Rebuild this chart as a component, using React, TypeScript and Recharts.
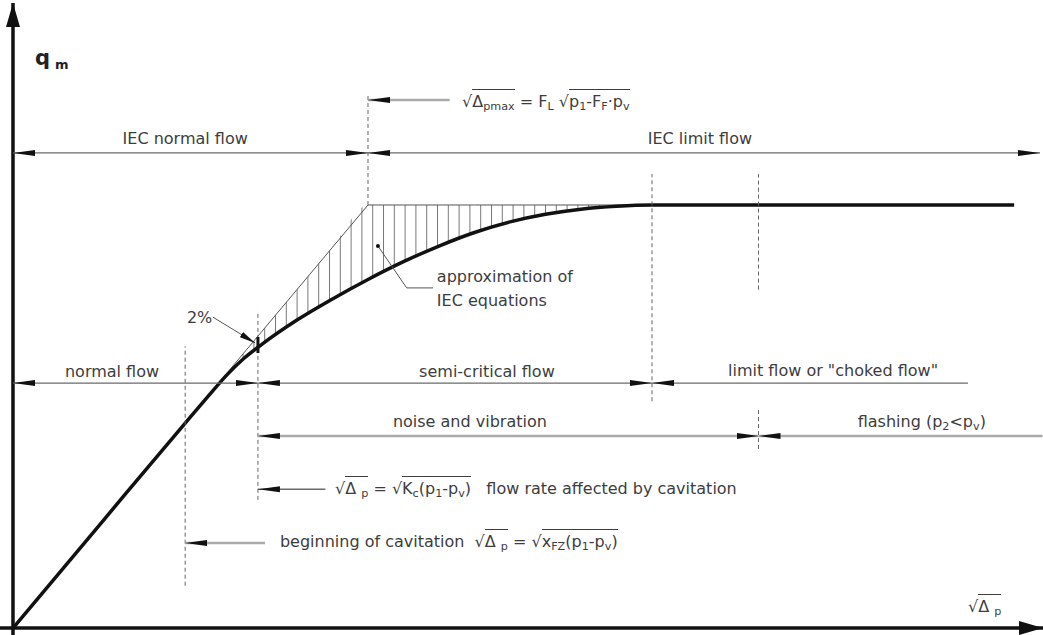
import React from "react"
import { ComposedChart, Line, Area, XAxis, YAxis, ReferenceLine, ReferenceDot } from "recharts"

// abscissa: √Δp relative to √Δp_max, ordinate: q_m relative to the choked (limit) flow
const sqrtDp = [0, 0.25, 0.5, 0.55, 0.6, 0.65, 0.7, 0.8, 0.9, 1.0, 1.1, 1.2, 1.3, 1.4, 1.5, 1.6, 1.7, 1.8, 2.82]
const qmReal = [0, 0.25, 0.499, 0.548, 0.596, 0.637, 0.67, 0.728, 0.778, 0.824, 0.866, 0.903, 0.935, 0.96, 0.978, 0.99, 0.997, 1.0, 1.0]
const qmIec = [0, 0.25, 0.5, 0.55, 0.6, 0.65, 0.7, 0.8, 0.9, 1.0, 1.0, 1.0, 1.0, 1.0, 1.0, 1.0, 1.0, 1.0, 1.0]

// characteristic points on the √Δp axis
const X_FZ = 0.485 // beginning of cavitation
const X_KC = 0.69 // flow rate affected by cavitation
const X_MAX = 1.0 // √Δp_max
const X_CHOKED = 1.8
const X_FLASH = 2.1
const X_END = 2.893

// levels of the dimension rows (in q_m units)
const Y_PMAX = 1.248
const Y_IEC = 1.123
const Y_FLOW = 0.579
const Y_NOISE = 0.454
const Y_KC = 0.328
const Y_FZ = 0.201

const X_DOMAIN = [-0.0366, 2.9014]
const Y_DOMAIN = [-0.0165, 1.4846]

const rows = sqrtDp.map((x, i) => ({ x, real: qmReal[i], iec: qmIec[i] }))

const dims = [
  { y: Y_PMAX, from: X_MAX, to: 1.23, start: true, end: false, light: true },
  { y: Y_IEC, from: 0, to: X_MAX, start: true, end: true, light: false },
  { y: Y_IEC, from: X_MAX, to: X_END, start: true, end: true, light: false },
  { y: Y_FLOW, from: 0, to: X_KC, start: true, end: true, light: false },
  { y: Y_FLOW, from: X_KC, to: X_CHOKED, start: true, end: true, light: false },
  { y: Y_FLOW, from: X_CHOKED, to: 2.69, start: true, end: false, light: false },
  { y: Y_NOISE, from: X_KC, to: X_FLASH, start: true, end: true, light: true },
  { y: Y_NOISE, from: X_FLASH, to: 2.9, start: true, end: false, light: true },
  { y: Y_KC, from: X_KC, to: 0.88, start: true, end: false, light: false },
  { y: Y_FZ, from: X_FZ, to: 0.71, start: true, end: false, light: true },
]

const guides = [
  { x: X_FZ, y1: 0.1, y2: 0.666 },
  { x: X_KC, y1: 0.303, y2: 0.75 },
  { x: X_MAX, y1: 1.0, y2: 1.262 },
  { x: X_CHOKED, y1: 0.536, y2: 1.073 },
  { x: X_FLASH, y1: 0.8, y2: 1.073 },
  { x: X_FLASH, y1: 0.423, y2: 0.52 },
]

const INK = "#3d3d3d"
const font: React.CSSProperties = {
  fontFamily: '"DejaVu Sans", sans-serif',
  fontSize: 16,
  color: INK,
  lineHeight: "20px",
  whiteSpace: "nowrap",
  paddingTop: 10,
}

const Sub = ({ children }: { children: React.ReactNode }) => (
  <span style={{ fontSize: "0.7em", verticalAlign: "-0.3em", lineHeight: 0 }}>{children}</span>
)
const Root = ({ children }: { children: React.ReactNode }) => (
  <span>
    √<span style={{ borderTop: `1.5px solid ${INK}`, paddingTop: 2 }}>{children}</span>
  </span>
)

const note = (content: React.ReactNode, dy: number, align: "left" | "center" = "left") => (p: any) => {
  const W = 460
  const x = align === "center" ? p.cx - W / 2 : p.cx
  return (
    <foreignObject x={x} y={p.cy + dy - 25.5} width={W} height={40}>
      <div style={{ ...font, textAlign: align }}>{content}</div>
    </foreignObject>
  )
}

const arrowLine = (color: string, width: number, start: boolean, end: boolean) => (p: any) => (
  <line
    x1={p.x1}
    y1={p.y1}
    x2={p.x2}
    y2={p.y2}
    stroke={color}
    strokeWidth={width}
    markerStart={start ? "url(#dimArrow)" : undefined}
    markerEnd={end ? "url(#dimArrow)" : undefined}
  />
)

export default function App() {
  return (
    <div style={{ position: "absolute", left: 0, top: 0, width: 1043, height: 635, background: "#fff" }}>
      <ComposedChart width={1043} height={635} data={rows} margin={{ top: 0, right: 0, bottom: 0, left: 0 }}>
        <defs>
          <marker id="dimArrow" markerUnits="userSpaceOnUse" markerWidth="22" markerHeight="8" viewBox="0 0 22 8" refX="22" refY="4" orient="auto-start-reverse">
            <path d="M0,1 L22,4 L0,7 Z" fill="#111" />
          </marker>
          <marker id="axisArrow" markerUnits="userSpaceOnUse" markerWidth="24" markerHeight="14" viewBox="0 0 24 14" refX="24" refY="7" orient="auto">
            <path d="M0,0 L24,7 L0,14 Z" fill="#111" />
          </marker>
          <marker id="leadArrow" markerUnits="userSpaceOnUse" markerWidth="16" markerHeight="7" viewBox="0 0 16 7" refX="16" refY="3.5" orient="auto">
            <path d="M0,0.5 L16,3.5 L0,6.5 Z" fill="#111" />
          </marker>
          <pattern id="hatch" patternUnits="userSpaceOnUse" width="10.8" height="8" x="5">
            <line x1="0.5" y1="0" x2="0.5" y2="8" stroke="#777" strokeWidth="1" />
          </pattern>
        </defs>
        <XAxis type="number" dataKey="x" domain={X_DOMAIN} hide allowDataOverflow />
        <YAxis type="number" domain={Y_DOMAIN} hide allowDataOverflow />

        <Area
          type="monotone"
          dataKey={(d: any) => [d.real, d.iec]}
          fill="url(#hatch)"
          fillOpacity={1}
          stroke="none"
          dot={false}
          activeDot={false}
          isAnimationActive={false}
        />
        <Line type="linear" dataKey="iec" stroke="#555" strokeWidth={1} dot={false} activeDot={false} isAnimationActive={false} />
        <Line type="monotone" dataKey="real" stroke="#111" strokeWidth={3.5} dot={false} activeDot={false} isAnimationActive={false} />

        {/* axes */}
        <ReferenceLine
          segment={[{ x: X_DOMAIN[0], y: 0 }, { x: X_DOMAIN[1], y: 0 }]}
          ifOverflow="visible"
          shape={(p: any) => <line x1={p.x1} y1={p.y1} x2={p.x2} y2={p.y2} stroke="#111" strokeWidth={3.5} markerEnd="url(#axisArrow)" />}
        />
        <ReferenceLine
          segment={[{ x: 0, y: Y_DOMAIN[0] }, { x: 0, y: 1.4775 }]}
          ifOverflow="visible"
          shape={(p: any) => <line x1={p.x1} y1={p.y1} x2={p.x2} y2={p.y2} stroke="#111" strokeWidth={3.5} markerEnd="url(#axisArrow)" />}
        />

        {guides.map((g, i) => (
          <ReferenceLine
            key={"g" + i}
            segment={[{ x: g.x, y: g.y1 }, { x: g.x, y: g.y2 }]}
            ifOverflow="visible"
            stroke="#666"
            strokeWidth={1}
            strokeDasharray="4 3"
          />
        ))}

        {dims.map((d, i) => (
          <ReferenceLine
            key={"d" + i}
            segment={[{ x: d.from, y: d.y }, { x: d.to, y: d.y }]}
            ifOverflow="visible"
            shape={arrowLine(d.light ? "#aaa" : "#6a6a6a", d.light ? 2.5 : 1.3, d.start, d.end)}
          />
        ))}

        {/* 2% marker */}
        <ReferenceLine
          segment={[{ x: 0.563, y: 0.735 }, { x: 0.682, y: 0.674 }]}
          ifOverflow="visible"
          shape={(p: any) => <line x1={p.x1} y1={p.y1} x2={p.x2} y2={p.y2} stroke="#555" strokeWidth={1} markerEnd="url(#leadArrow)" />}
        />
        <ReferenceLine segment={[{ x: X_KC, y: 0.65 }, { x: X_KC, y: 0.688 }]} ifOverflow="visible" stroke="#111" strokeWidth={3} />

        {/* leader of the approximation note */}
        <ReferenceLine segment={[{ x: 1.028, y: 0.903 }, { x: 1.109, y: 0.804 }]} ifOverflow="visible" stroke="#555" strokeWidth={1} />
        <ReferenceLine segment={[{ x: 1.109, y: 0.804 }, { x: 1.183, y: 0.804 }]} ifOverflow="visible" stroke="#555" strokeWidth={1} />
        <ReferenceDot x={1.028} y={0.903} r={2} fill="#111" stroke="none" ifOverflow="visible" />

        {/* texts */}
        <ReferenceDot
          x={0.062}
          y={1.331}
          ifOverflow="visible"
          shape={(p: any) => (
            <text x={p.cx} y={p.cy} fontFamily='"DejaVu Sans", sans-serif' fontWeight="bold" fontSize={21} fill="#222">
              q<tspan fontSize={13} dx={5} dy={4}>m</tspan>
            </text>
          )}
        />
        <ReferenceDot x={2.69} y={0} ifOverflow="visible" shape={note(<Root>Δ <Sub>p</Sub></Root>, -16)} />
        <ReferenceDot
          x={1.265}
          y={Y_PMAX}
          ifOverflow="visible"
          shape={note(
            <>
              <Root>Δ<Sub>pmax</Sub></Root> = F<Sub>L</Sub> <Root>p<Sub>1</Sub>-F<Sub>F</Sub>·p<Sub>v</Sub></Root>
            </>,
            7
          )}
        />
        <ReferenceDot x={X_FZ} y={Y_IEC} ifOverflow="visible" shape={note("IEC normal flow", -8, "center")} />
        <ReferenceDot x={1.935} y={Y_IEC} ifOverflow="visible" shape={note("IEC limit flow", -8, "center")} />
        <ReferenceDot x={0.279} y={Y_FLOW} ifOverflow="visible" shape={note("normal flow", -6, "center")} />
        <ReferenceDot x={1.335} y={Y_FLOW} ifOverflow="visible" shape={note("semi-critical flow", -6, "center")} />
        <ReferenceDot x={2.31} y={Y_FLOW} ifOverflow="visible" shape={note('limit flow or "choked flow"', -7, "center")} />
        <ReferenceDot x={1.287} y={Y_NOISE} ifOverflow="visible" shape={note("noise and vibration", -8, "center")} />
        <ReferenceDot
          x={2.56}
          y={Y_NOISE}
          ifOverflow="visible"
          shape={note(<>flashing (p<Sub>2</Sub>&lt;p<Sub>v</Sub>)</>, -8, "center")}
        />
        <ReferenceDot
          x={0.907}
          y={Y_KC}
          ifOverflow="visible"
          shape={note(
            <>
              <Root>Δ <Sub>p</Sub></Root> = <Root>K<Sub>c</Sub>(p<Sub>1</Sub>-p<Sub>v</Sub>)</Root>&nbsp;&nbsp; flow rate affected by cavitation
            </>,
            5
          )}
        />
        <ReferenceDot
          x={0.752}
          y={Y_FZ}
          ifOverflow="visible"
          shape={note(
            <>
              beginning of cavitation&nbsp; <Root>Δ <Sub>p</Sub></Root> = <Root>x<Sub>FZ</Sub>(p<Sub>1</Sub>-p<Sub>v</Sub>)</Root>
            </>,
            5
          )}
        />
        <ReferenceDot x={0.49} y={0.721} ifOverflow="visible" shape={note("2%", 0)} />
        <ReferenceDot
          x={1.194}
          y={0.816}
          ifOverflow="visible"
          shape={(p: any) => (
            <g>
              {note("approximation of", 0)(p)}
              {note("IEC equations", 24)(p)}
            </g>
          )}
        />
      </ComposedChart>
    </div>
  )
}
